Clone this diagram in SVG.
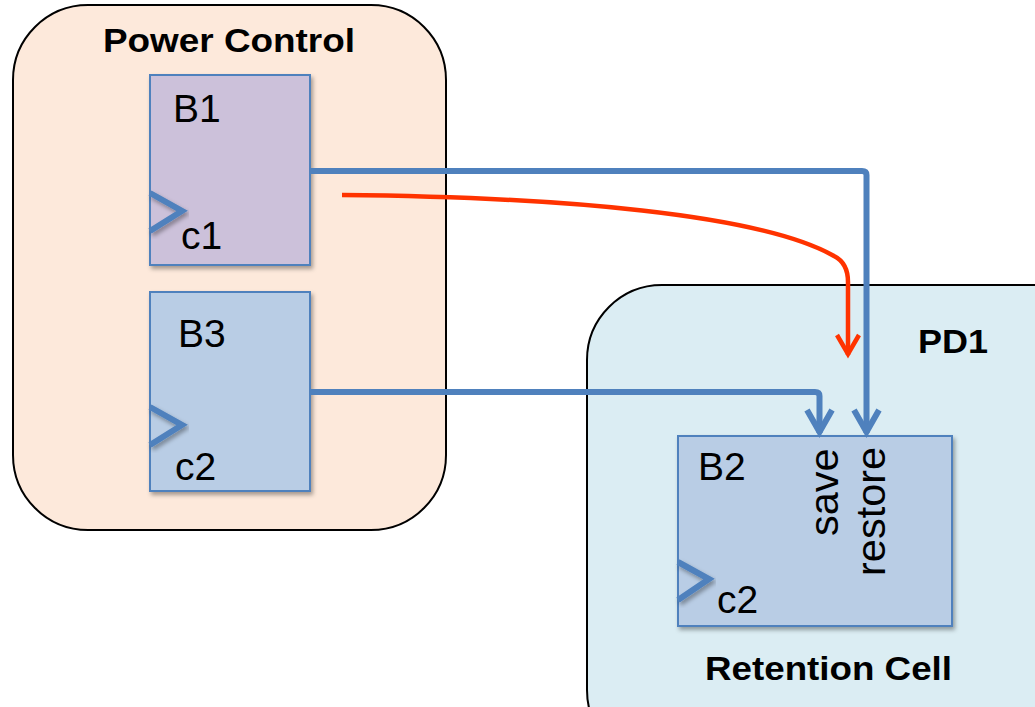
<svg xmlns="http://www.w3.org/2000/svg" width="1035" height="707" viewBox="0 0 1035 707">
  <defs>
    <style>
      .domain { stroke: #000; stroke-width: 2; }
      .block { stroke: #4f81bd; stroke-width: 2; filter: url(#shadow); }
      .clk { fill: none; stroke: #4f81bd; stroke-width: 6; stroke-linejoin: miter; filter: url(#shadow); }
      .title { font-family: "Liberation Sans", Arial, sans-serif; font-weight: bold; font-size: 34px; fill: #000; }
      .lbl { font-family: "Liberation Sans", Arial, sans-serif; font-size: 39px; fill: #000; }
      .port { font-size: 41.5px; }
      .wire { fill: none; stroke: #4f81bd; stroke-width: 6; stroke-linejoin: round; }
      .ctrl { fill: none; stroke: #ff3300; stroke-width: 4.5; stroke-linejoin: round; }
    </style>
    <filter id="shadow" x="-10%" y="-10%" width="130%" height="130%">
      <feDropShadow dx="2" dy="3" stdDeviation="2" flood-color="#000" flood-opacity="0.35"/>
    </filter>
    <marker id="arrowBlue" markerUnits="userSpaceOnUse" viewBox="-30 -20 40 40" markerWidth="40" markerHeight="40" refX="1" refY="0" orient="auto">
      <path d="M-22,-12.5 L0,0 L-22,12.5" fill="none" stroke="#4f81bd" stroke-width="6" stroke-linejoin="miter"/>
    </marker>
    <marker id="arrowRed" markerUnits="userSpaceOnUse" viewBox="-30 -20 40 40" markerWidth="40" markerHeight="40" refX="1" refY="0" orient="auto">
      <path d="M-19,-11 L0,0 L-19,11" fill="none" stroke="#ff3300" stroke-width="4.5" stroke-linejoin="miter"/>
    </marker>
  </defs>

  <rect width="1035" height="707" fill="#ffffff"/>

  <!-- power control domain -->
  <g id="power-control">
    <rect class="domain" x="13" y="5" width="433" height="525" rx="75" ry="75" fill="#fde9db"/>
    <text class="title" x="229" y="52" text-anchor="middle" textLength="252" lengthAdjust="spacingAndGlyphs">Power Control</text>
  </g>

  <!-- switchable power domain -->
  <g id="pd1">
    <rect class="domain" x="587" y="285" width="520" height="480" rx="75" ry="75" fill="#dbedf3"/>
    <text class="title" x="918" y="353" textLength="70" lengthAdjust="spacingAndGlyphs">PD1</text>
    <text class="title" x="705" y="680" textLength="247" lengthAdjust="spacingAndGlyphs">Retention Cell</text>
  </g>

  <g id="b1">
    <rect class="block" x="150" y="75" width="160" height="190" fill="#ccc1da"/>
    <polyline class="clk" points="150,193 182,211 150,231"/>
    <text class="lbl" x="173" y="122">B1</text>
    <text class="lbl" x="181" y="249">c1</text>
  </g>

  <g id="b3">
    <rect class="block" x="150" y="292" width="160" height="199" fill="#b9cde5"/>
    <polyline class="clk" points="150,407 182,425 150,445"/>
    <text class="lbl" x="178" y="347">B3</text>
    <text class="lbl" x="175" y="480">c2</text>
  </g>

  <g id="b2">
    <rect class="block" x="678" y="436" width="274" height="190" fill="#b9cde5"/>
    <polyline class="clk" points="678,562 709,579 678,600"/>
    <text class="lbl" x="698" y="480">B2</text>
    <text class="lbl" x="717" y="613">c2</text>
    <text class="lbl port" transform="translate(838,536) rotate(-90)">save</text>
    <text class="lbl port" transform="translate(885,576) rotate(-90)">restore</text>
  </g>

  <g id="connectors">
    <!-- B1 -> restore -->
    <path class="wire" d="M310,171 H862 Q866.5,171 866.5,175 V433" marker-end="url(#arrowBlue)"/>
    <!-- B3 -> save -->
    <path class="wire" d="M310,392 H815 Q819.5,392 819.5,396 V433" marker-end="url(#arrowBlue)"/>
    <!-- power-off control into PD1 -->
    <path class="ctrl" d="M342,195 C560,197 760,214 834,256 Q848,263 848,282 V355" marker-end="url(#arrowRed)"/>
  </g>
</svg>
